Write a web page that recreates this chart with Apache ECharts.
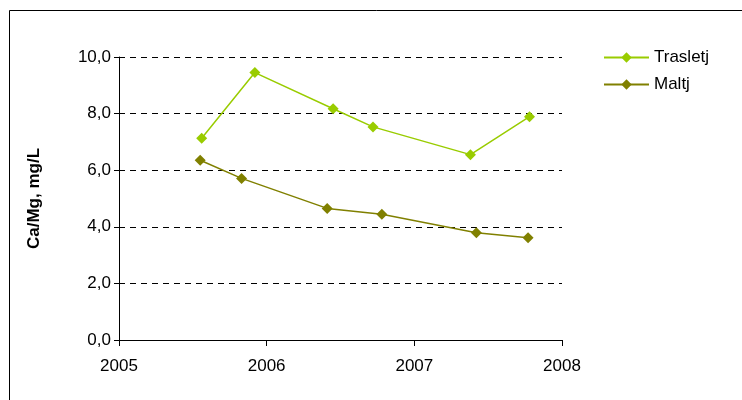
<!DOCTYPE html>
<html>
<head>
<meta charset="utf-8">
<script src="https://cdn.jsdelivr.net/npm/echarts@6/dist/echarts.min.js"></script>
<style>
  html, body { margin: 0; padding: 0; background: #fff; }
  #chart { width: 742px; height: 400px; }
</style>
</head>
<body>
<div id="chart"></div>
<script>
var trasletjX = [2005.56, 2005.92, 2006.45, 2006.72, 2007.38, 2007.78];
var trasletjY = [7.13, 9.45, 8.17, 7.53, 6.55, 7.89];
var maltjX = [2005.55, 2005.83, 2006.41, 2006.78, 2007.42, 2007.77];
var maltjY = [6.35, 5.71, 4.65, 4.44, 3.79, 3.61];

function pairs(xs, ys) {
  return xs.map(function (x, i) { return [x, ys[i]]; });
}

var myChart = echarts.init(document.getElementById('chart'));
var font = 'Liberation Sans, Arial, sans-serif';
var option = {
  animation: false,
  textStyle: { fontFamily: font },
  graphic: [{
    type: 'rect', left: 7, top: 8,
    shape: { width: 760, height: 420 },
    style: { fill: 'none', stroke: '#000', lineWidth: 1 }
  }],
  grid: { left: 119, right: 180, top: 57, bottom: 60 },
  legend: {
    orient: 'vertical', left: 598, top: 44, itemGap: 10,
    itemWidth: 45, itemHeight: 13,
    textStyle: { fontSize: 17, color: '#000', fontFamily: font },
    data: ['Trasletj', 'Maltj']
  },
  xAxis: {
    type: 'value', min: 2005, max: 2008, interval: 1,
    axisLine: { lineStyle: { color: '#000' } },
    axisTick: { lineStyle: { color: '#000' }, length: 6 },
    axisLabel: { color: '#000', fontSize: 17, margin: 18,
      formatter: function (v) { return String(v); } },
    splitLine: { show: false }
  },
  yAxis: {
    type: 'value', min: 0, max: 10, interval: 2,
    name: 'Ca/Mg, mg/L', nameLocation: 'middle', nameGap: 76,
    nameTextStyle: { fontWeight: 'bold', fontSize: 17, color: '#000' },
    axisLine: { show: true, lineStyle: { color: '#000' } },
    axisTick: { show: true, inside: false, length: 5, lineStyle: { color: '#000' } },
    axisLabel: {
      color: '#000', fontSize: 17,
      formatter: function (v) { return v.toFixed(1).replace('.', ','); }
    },
    splitLine: { lineStyle: { color: '#000', type: [6, 5] } }
  },
  series: [
    {
      name: 'Trasletj', type: 'line', data: pairs(trasletjX, trasletjY),
      symbol: 'diamond', symbolSize: 11,
      lineStyle: { color: '#99cc00', width: 1.5 },
      itemStyle: { color: '#99cc00' }
    },
    {
      name: 'Maltj', type: 'line', data: pairs(maltjX, maltjY),
      symbol: 'diamond', symbolSize: 11,
      lineStyle: { color: '#808000', width: 1.5 },
      itemStyle: { color: '#808000' }
    }
  ]
};
myChart.setOption(option);
</script>
</body>
</html>
